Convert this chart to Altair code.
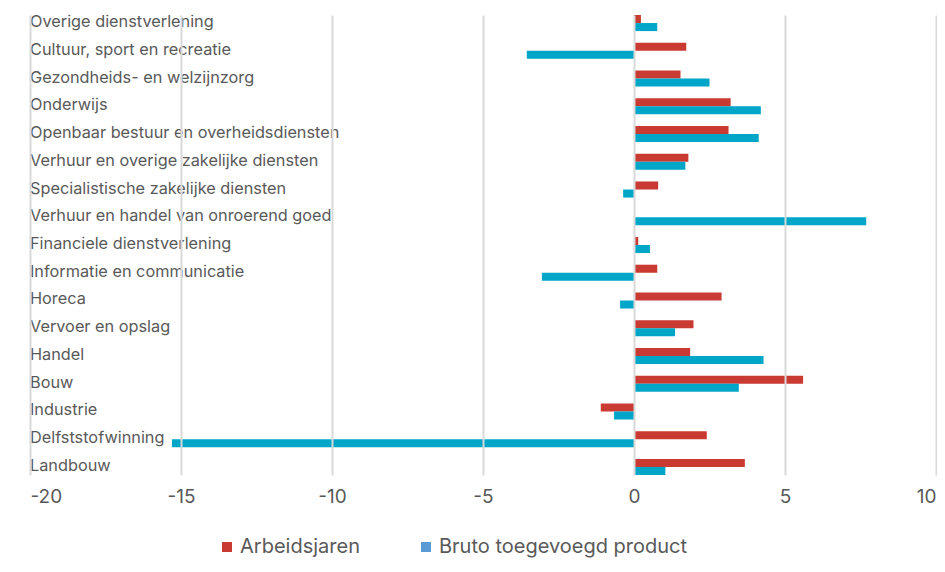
import altair as alt
import pandas as pd

categories = [
    "Overige dienstverlening",
    "Cultuur, sport en recreatie",
    "Gezondheids- en welzijnzorg",
    "Onderwijs",
    "Openbaar bestuur en overheidsdiensten",
    "Verhuur en overige zakelijke diensten",
    "Specialistische zakelijke diensten",
    "Verhuur en handel van onroerend goed",
    "Financiele dienstverlening",
    "Informatie en communicatie",
    "Horeca",
    "Vervoer en opslag",
    "Handel",
    "Bouw",
    "Industrie",
    "Delfststofwinning",
    "Landbouw",
]
series_names = ["Arbeidsjaren", "Bruto toegevoegd product"]
arbeidsjaren = [0.23, 1.73, 1.54, 3.20, 3.13, 1.80, 0.80, 0.0, 0.14, 0.77, 2.90, 1.97, 1.86, 5.60, -1.10, 2.41, 3.67]
bbp = [0.77, -3.55, 2.50, 4.20, 4.13, 1.70, -0.36, 7.69, 0.53, -3.05, -0.46, 1.36, 4.29, 3.47, -0.66, -15.3, 1.04]
x_ticks = [-20, -15, -10, -5, 0, 5, 10]

rows = []
for c, a, b in zip(categories, arbeidsjaren, bbp):
    rows.append({"sector": c, "reeks": series_names[0], "waarde": a})
    rows.append({"sector": c, "reeks": series_names[1], "waarde": b})
df = pd.DataFrame(rows)
labels_df = pd.DataFrame({"sector": categories})
legend_df = pd.DataFrame({"reeks": series_names})

FONT = "Inter"
y_scale = alt.Scale(domain=categories, paddingInner=0.42, paddingOuter=0)

bars = alt.Chart(df).mark_bar(cornerRadius=0).encode(
    x=alt.X("waarde:Q",
            scale=alt.Scale(domain=[-20, 10], nice=False),
            axis=alt.Axis(values=x_ticks, title=None, grid=True, gridColor="#d9d9d9",
                          gridWidth=2, domain=False, ticks=False, labelFontSize=19,
                          labelColor="#595959", labelPadding=12, labelFont=FONT,
                          zindex=1, labelOverlap=False,
                          labelExpr="datum.value < 0 ? '-' + abs(datum.value) : '' + datum.value")),
    y=alt.Y("sector:N", scale=y_scale, axis=None, sort=categories),
    yOffset=alt.YOffset("reeks:N", sort=series_names,
                        scale=alt.Scale(paddingInner=0, paddingOuter=0)),
    color=alt.Color("reeks:N", sort=series_names,
                    scale=alt.Scale(domain=series_names, range=["#C93A32", "#00A6C8"]),
                    legend=None),
)

labels = alt.Chart(labels_df).mark_text(
    align="left", baseline="alphabetic", dy=4, fontSize=16.3, font=FONT, color="#595959"
).encode(
    y=alt.Y("sector:N", scale=y_scale, axis=None, sort=categories),
    x=alt.value(0),
    text="sector:N",
)

legend_layer = alt.Chart(legend_df).mark_square(opacity=0, size=1).encode(
    x=alt.value(0),
    y=alt.value(0),
    color=alt.Color("reeks:N", sort=series_names,
                    scale=alt.Scale(domain=series_names, range=["#C93A32", "#5B9BD5"]),
                    legend=alt.Legend(title=None, orient="none", direction="horizontal",
                                      legendX=187, legendY=522, symbolType="square",
                                      symbolSize=100, symbolOpacity=1, labelFontSize=20,
                                      labelFont=FONT, labelColor="#595959",
                                      labelLimit=500, labelBaseline="middle",
                                      columnPadding=56, labelOffset=3)),
)

chart = alt.layer(bars, labels, legend_layer).resolve_scale(
    color="independent"
).properties(
    width=906, height=460,
    autosize=alt.AutoSizeParams(type="none"),
    padding={"left": 22, "top": 7, "right": 1, "bottom": 89},
).configure_view(stroke=None)

chart.save("out.html", embed_options={"renderer": "svg", "actions": False})
